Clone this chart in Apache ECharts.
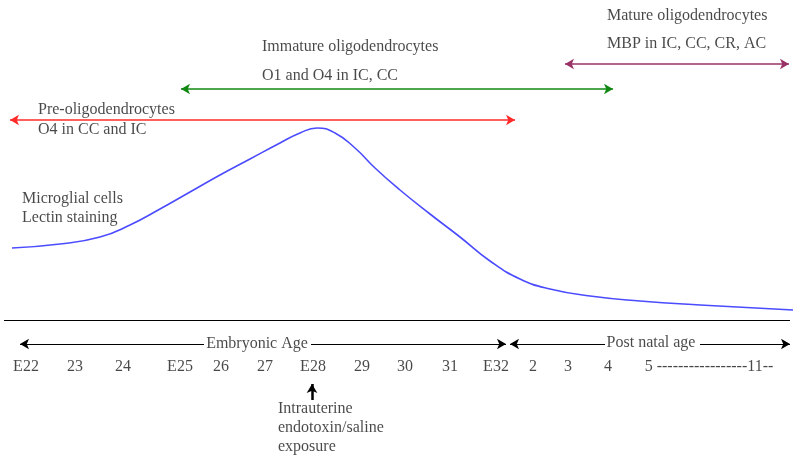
<!DOCTYPE html>
<html><head><meta charset="utf-8">
<script src="https://cdn.jsdelivr.net/npm/echarts@6/dist/echarts.min.js"></script>
<style>html,body{margin:0;padding:0;background:#fff}#c{width:800px;height:461px}</style>
</head><body><div id="c"></div>
<script>
// Microglial (lectin) curve: position along age axis vs. level (screen-down units)
const curveX = [12, 60, 100, 130, 160, 190, 220, 250, 280, 300, 317, 335, 355, 375, 400, 430, 460, 490, 520, 550, 590, 640, 700, 793];
const curveY = [248, 244, 237, 225, 209, 192, 175, 159, 143, 133, 128, 133, 148, 168, 190, 214, 237, 261, 279, 289, 296, 301, 305, 310];
// Age tick labels and their positions
const tickLabels = ['E22', '23', '24', 'E25', '26', '27', 'E28', '29', '30', '31', 'E32', '2', '3', '4', '5 -----------------11--'];
const tickPos = [26, 75, 123, 180, 221, 265, 313, 362, 405, 450, 496, 533, 568, 608, 709];
// Stage ranges (start, end) and row
const stageNames = ['Pre-oligodendrocytes', 'Immature oligodendrocytes', 'Mature oligodendrocytes'];
const stageMarkers = ['O4 in CC and IC', 'O1 and O4 in IC, CC', 'MBP in IC, CC, CR, AC'];
const stageStart = [10, 181, 565];
const stageEnd = [515, 613, 789];
const stageRow = [120, 89, 64];

const font = '"Liberation Serif", "Times New Roman", serif';
const stageColors = ['#ff2a2a', '#118811', '#993366'];
const txtColor = '#1a1a1a';

function txt(x, y, s, align) {
  return { value: [x, y], label: { show: true, formatter: s, position: 'inside', align: align || 'left', verticalAlign: 'middle', color: txtColor, fontFamily: font, fontSize: 16 } };
}

const texts = [];
const stageLabelPos = [[38, 110, 38, 130], [262, 47, 262, 76], [607, 16, 607, 44]];
stageNames.forEach((n, i) => {
  const p = stageLabelPos[i];
  texts.push(txt(p[0], p[1], n));
  texts.push(txt(p[2], p[3], stageMarkers[i]));
});
texts.push(txt(22, 199, 'Microglial cells'));
texts.push(txt(22, 218, 'Lectin staining'));
texts.push(txt(257, 344, 'Embryonic Age', 'center'));
texts.push(txt(651, 343, 'Post natal age', 'center'));
tickLabels.forEach((t, i) => texts.push(txt(tickPos[i], 367, t, 'center')));
texts.push(txt(278, 409, 'Intrauterine'));
texts.push(txt(278, 428, 'endotoxin/saline'));
texts.push(txt(278, 447, 'exposure'));

const arrowLines = [];
stageStart.forEach((s, i) => {
  arrowLines.push({
    coords: [[s, stageRow[i]], [stageEnd[i], stageRow[i]]],
    symbol: ['arrow', 'arrow'], symbolSize: [8, 9],
    lineStyle: { color: stageColors[i], width: 1.5, type: 'solid' }
  });
});
const blackSeg = (a, b, sym, w) => ({ coords: [a, b], symbol: sym, symbolSize: [8, 9], lineStyle: { color: '#000', width: w || 1, type: 'solid' } });
arrowLines.push(blackSeg([4, 320], [790, 320], ['none', 'none'], 1.2));
arrowLines.push(blackSeg([20, 344], [204, 344], ['arrow', 'none']));
arrowLines.push(blackSeg([311, 344], [506, 344], ['none', 'arrow']));
arrowLines.push(blackSeg([510, 344], [605, 344], ['arrow', 'none']));
arrowLines.push(blackSeg([700, 344], [790, 344], ['none', 'arrow']));
arrowLines.push(blackSeg([312, 400], [312, 384], ['none', 'arrow'], 2.5));

const chart = echarts.init(document.getElementById('c'));
chart.setOption({
  animation: false,
  backgroundColor: '#fff',
  grid: { left: 0, right: 0, top: 0, bottom: 0 },
  xAxis: { type: 'value', min: 0, max: 800, show: false },
  yAxis: { type: 'value', min: 0, max: 461, inverse: true, show: false },
  series: [
    {
      type: 'line', data: curveX.map((x, i) => [x, curveY[i]]), smooth: 0.5, showSymbol: false,
      lineStyle: { color: '#4b4bff', width: 1.6 }, silent: true
    },
    {
      type: 'line', data: [], silent: true,
      markLine: { silent: true, label: { show: false }, data: arrowLines.map(a => [
        { coord: a.coords[0], symbol: a.symbol[0], symbolSize: a.symbolSize, lineStyle: a.lineStyle },
        { coord: a.coords[1], symbol: a.symbol[1], symbolSize: a.symbolSize }
      ]) }
    },
    {
      type: 'scatter', data: texts, symbolSize: 0, silent: true, itemStyle: { color: 'transparent' }
    }
  ]
});
</script></body></html>
